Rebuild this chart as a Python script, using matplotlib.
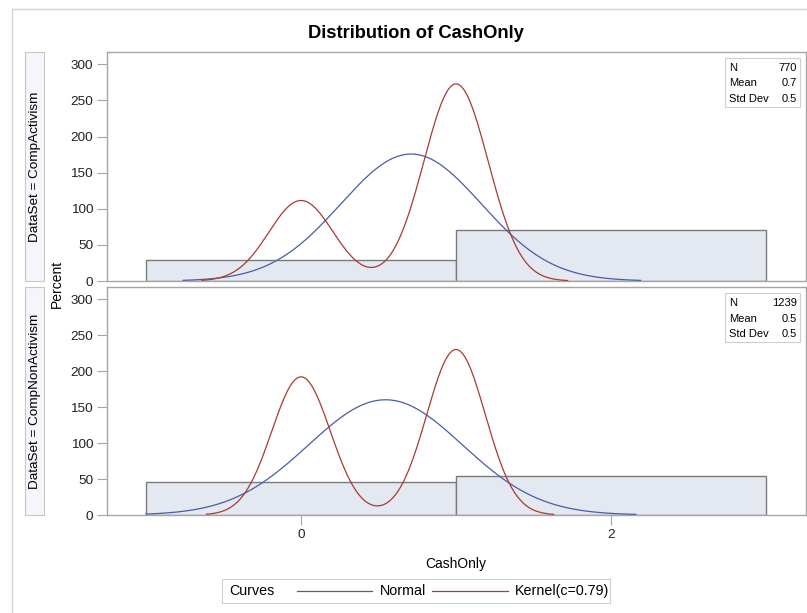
import numpy as np
import matplotlib
matplotlib.use("Agg")
import matplotlib.pyplot as plt
from matplotlib.patches import Rectangle
from matplotlib.lines import Line2D

plt.rcParams['font.family'] = ['Liberation Sans', 'DejaVu Sans']

# ---- data ----
panels = ["CompActivism", "CompNonActivism"]
bin_centers = [0, 2]
bin_width = 2.0
bar_percent = [[29.0, 71.0], [45.5, 54.5]]
stat_n = [770, 1239]
stat_mean = [0.7, 0.5]
stat_sd = [0.5, 0.5]
# fitted normal curve parameters and plotted ranges
norm_mu = [0.71, 0.545]
norm_sigma = [0.454, 0.498]
norm_range = [(-0.76, 2.19), (-1.0, 2.16)]
# kernel estimate: bandwidth, mass at 0 / 1, plotted ranges
kern_bw = [0.2076, 0.189]
kern_mass = [[0.29, 0.71], [0.455, 0.545]]
kern_range = [(-0.64, 1.72), (-0.61, 1.63)]
x_ticks = [0, 2]
y_ticks = [0, 50, 100, 150, 200, 250, 300]

W, H = 807, 613
fig = plt.figure(figsize=(W / 100, H / 100), dpi=100)

def fx(px):
    return px / W

def fy(py):
    return 1 - py / H

frame_col = "#a6a6a6"
bar_fill = "#e3e8f1"
bar_edge = "#7b7b7b"
normal_col = "#4a5ca8"
kernel_col = "#a83b30"

ax_left, ax_right = 107, 806
panel_px = [(52, 281), (287, 515)]

def gauss(x, mu, s):
    return np.exp(-0.5 * ((x - mu) / s) ** 2) / (s * np.sqrt(2 * np.pi))

axes = []
for i, (top, bot) in enumerate(panel_px):
    ax = fig.add_axes([fx(ax_left), fy(bot), fx(ax_right - ax_left), (bot - top) / H])
    axes.append(ax)
    ax.bar(bin_centers, bar_percent[i], width=bin_width, color=bar_fill,
           edgecolor=bar_edge, linewidth=1.0, zorder=1)
    scale = 100 * bin_width
    xs = np.linspace(*norm_range[i], 400)
    ax.plot(xs, scale * gauss(xs, norm_mu[i], norm_sigma[i]), color=normal_col, lw=0.9, zorder=3)
    xk = np.linspace(*kern_range[i], 400)
    yk = scale * (kern_mass[i][0] * gauss(xk, 0, kern_bw[i]) + kern_mass[i][1] * gauss(xk, 1, kern_bw[i]))
    ax.plot(xk, yk, color=kernel_col, lw=0.9, zorder=3)

    ax.set_xlim(-1.252, 3.258)
    ax.set_ylim(0, 317)
    ax.set_yticks(y_ticks)
    ax.set_xticks(x_ticks)
    for s in ax.spines.values():
        s.set_color(frame_col)
        s.set_linewidth(1.0)
    ax.tick_params(axis='both', direction='out', length=7, width=0.8, color=frame_col,
                   labelsize=9.7, labelcolor="#222222", pad=3)
    if i == 0:
        ax.tick_params(axis='x', bottom=False, labelbottom=False)

    # inset statistics table
    bx0, by0, bx1, by1 = 725, top + 6, 800, top + 55
    fig.patches.append(Rectangle((fx(bx0), fy(by1)), fx(bx1 - bx0), (by1 - by0) / H,
                                 transform=fig.transFigure, facecolor="white",
                                 edgecolor="#cfcfcf", lw=0.8, zorder=5))
    rows = [("N", f"{stat_n[i]}"), ("Mean", f"{stat_mean[i]:.1f}"), ("Std Dev", f"{stat_sd[i]:.1f}")]
    for r, (lab, val) in enumerate(rows):
        yy = top + 16 + r * 15.5
        fig.text(fx(bx0 + 4), fy(yy), lab, fontsize=8, ha="left", va="center", color="black", zorder=6)
        fig.text(fx(bx1 - 3), fy(yy), val, fontsize=8, ha="right", va="center", color="black", zorder=6)

    # row header
    fig.patches.append(Rectangle((fx(25), fy(bot)), fx(19), (bot - top) / H,
                                 transform=fig.transFigure, facecolor="#f4f6fb",
                                 edgecolor="#c8c8c8", lw=0.8))
    fig.text(fx(35), fy((top + bot) / 2), f"DataSet = {panels[i]}", rotation=90,
             fontsize=9.7, ha="center", va="center", color="black")

fig.text(fx(57), fy(284), "Percent", rotation=90, fontsize=10, ha="center", va="center")
fig.text(fx(456), fy(564), "CashOnly", fontsize=10, ha="center", va="center")
fig.text(fx(416), fy(33), "Distribution of CashOnly", fontsize=13.2, fontweight="bold",
         ha="center", va="center")

# outer frame lines
fig.add_artist(Line2D([fx(12), 1], [fy(9), fy(9)], color="#d4d4d4", lw=1.0))
fig.add_artist(Line2D([fx(12), fx(12)], [fy(9), 0], color="#d4d4d4", lw=1.0))

# legend
fig.patches.append(Rectangle((fx(222), fy(603)), fx(610 - 222), 24 / H,
                             transform=fig.transFigure, facecolor="white",
                             edgecolor="#cfcfcf", lw=0.8))
ly = fy(591)
fig.text(fx(229), ly, "Curves", fontsize=10.3, ha="left", va="center")
fig.add_artist(Line2D([fx(297), fx(372)], [ly, ly], color=normal_col, lw=0.9))
fig.text(fx(380), ly, "Normal", fontsize=10.3, ha="left", va="center")
fig.add_artist(Line2D([fx(432), fx(508)], [ly, ly], color=kernel_col, lw=0.9))
fig.text(fx(515), ly, "Kernel(c=0.79)", fontsize=10.3, ha="left", va="center")

fig.savefig("out.png", dpi=100)
